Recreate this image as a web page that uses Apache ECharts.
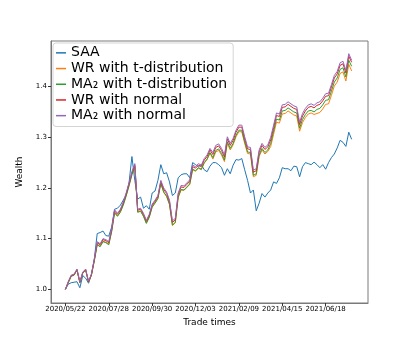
<!DOCTYPE html>
<html>
<head>
<meta charset="utf-8">
<script src="https://cdn.jsdelivr.net/npm/echarts@6/dist/echarts.min.js"></script>
<style>
  html, body { margin: 0; padding: 0; background: #fff; }
  #main { width: 409px; height: 341px; }
</style>
</head>
<body>
<div id="main"></div>
<script>
// sampled every 3 trading days, day 0 = 2020/05/22
var step = 3;
var tickDays = [0, 45, 90, 135, 180, 225, 270];
var tickLabels = ['2020/05/22', '2020/07/28', '2020/09/30', '2020/12/03', '2021/02/09', '2021/04/15', '2021/06/18'];
var yTicks = [1.0, 1.1, 1.2, 1.3, 1.4];

var names = ['SAA', 'WR with t-distribution', 'MA\u2082 with t-distribution', 'WR with normal', 'MA\u2082 with normal'];
var colors = ['#1f77b4', '#ff7f0e', '#2ca02c', '#d62728', '#9467bd'];

var saa = [1.000, 1.010, 1.013, 1.014, 1.015, 1.003, 1.027, 1.022, 1.012, 1.030,
  1.060, 1.110, 1.112, 1.115, 1.106, 1.105, 1.123, 1.158, 1.160, 1.166,
  1.176, 1.186, 1.210, 1.262, 1.215, 1.178, 1.182, 1.160, 1.165, 1.158,
  1.190, 1.194, 1.215, 1.246, 1.228, 1.230, 1.212, 1.185, 1.190, 1.220,
  1.226, 1.228, 1.228, 1.220, 1.250, 1.246, 1.242, 1.246, 1.236, 1.232,
  1.243, 1.250, 1.250, 1.246, 1.240, 1.225, 1.238, 1.228, 1.245, 1.256,
  1.255, 1.258, 1.236, 1.215, 1.190, 1.196, 1.155, 1.170, 1.189, 1.182,
  1.190, 1.196, 1.212, 1.209, 1.220, 1.240, 1.238, 1.238, 1.234, 1.243,
  1.242, 1.222, 1.242, 1.250, 1.248, 1.246, 1.251, 1.246, 1.240, 1.246,
  1.237, 1.250, 1.260, 1.267, 1.279, 1.294, 1.290, 1.282, 1.310, 1.296];

var wrT = [1.000, 1.013, 1.026, 1.028, 1.038, 1.013, 1.032, 1.038, 1.014, 1.028,
  1.057, 1.089, 1.085, 1.095, 1.093, 1.089, 1.115, 1.152, 1.145, 1.153,
  1.167, 1.185, 1.205, 1.227, 1.243, 1.153, 1.155, 1.145, 1.131, 1.143,
  1.163, 1.171, 1.180, 1.210, 1.191, 1.183, 1.167, 1.126, 1.131, 1.181,
  1.196, 1.195, 1.201, 1.207, 1.236, 1.233, 1.239, 1.236, 1.249, 1.256,
  1.269, 1.257, 1.271, 1.274, 1.265, 1.252, 1.288, 1.275, 1.285, 1.301,
  1.311, 1.311, 1.288, 1.268, 1.267, 1.222, 1.225, 1.262, 1.275, 1.267,
  1.272, 1.282, 1.306, 1.330, 1.328, 1.346, 1.347, 1.352, 1.348, 1.344,
  1.342, 1.312, 1.329, 1.339, 1.346, 1.348, 1.345, 1.347, 1.349, 1.356,
  1.365, 1.366, 1.383, 1.401, 1.409, 1.426, 1.429, 1.411, 1.444, 1.431];

var maT = [1.000, 1.013, 1.026, 1.028, 1.038, 1.013, 1.032, 1.038, 1.014, 1.028,
  1.056, 1.088, 1.084, 1.094, 1.092, 1.088, 1.114, 1.151, 1.144, 1.152,
  1.166, 1.184, 1.204, 1.226, 1.242, 1.152, 1.154, 1.144, 1.130, 1.142,
  1.162, 1.170, 1.179, 1.209, 1.192, 1.184, 1.168, 1.127, 1.132, 1.182,
  1.197, 1.196, 1.202, 1.208, 1.237, 1.234, 1.240, 1.237, 1.250, 1.257,
  1.270, 1.260, 1.274, 1.277, 1.268, 1.255, 1.291, 1.278, 1.288, 1.304,
  1.314, 1.314, 1.291, 1.271, 1.270, 1.225, 1.228, 1.265, 1.278, 1.270,
  1.275, 1.288, 1.312, 1.336, 1.334, 1.352, 1.353, 1.358, 1.354, 1.350,
  1.348, 1.318, 1.335, 1.345, 1.352, 1.353, 1.350, 1.355, 1.357, 1.364,
  1.373, 1.374, 1.391, 1.409, 1.417, 1.434, 1.437, 1.419, 1.452, 1.440];

var wrN = [1.000, 1.015, 1.027, 1.029, 1.039, 1.014, 1.033, 1.039, 1.015, 1.029,
  1.058, 1.092, 1.088, 1.098, 1.096, 1.092, 1.118, 1.155, 1.148, 1.156,
  1.170, 1.188, 1.208, 1.230, 1.246, 1.156, 1.158, 1.148, 1.134, 1.146,
  1.166, 1.174, 1.183, 1.213, 1.197, 1.189, 1.173, 1.132, 1.137, 1.187,
  1.202, 1.201, 1.207, 1.213, 1.242, 1.239, 1.245, 1.242, 1.255, 1.262,
  1.275, 1.266, 1.280, 1.283, 1.274, 1.261, 1.297, 1.284, 1.294, 1.310,
  1.320, 1.320, 1.297, 1.277, 1.276, 1.231, 1.234, 1.271, 1.284, 1.276,
  1.281, 1.295, 1.319, 1.343, 1.341, 1.359, 1.360, 1.365, 1.361, 1.357,
  1.355, 1.325, 1.342, 1.352, 1.359, 1.361, 1.358, 1.363, 1.365, 1.372,
  1.381, 1.382, 1.399, 1.417, 1.425, 1.442, 1.445, 1.427, 1.460, 1.448];

var maN = [1.000, 1.015, 1.028, 1.030, 1.040, 1.015, 1.034, 1.040, 1.016, 1.030,
  1.060, 1.094, 1.090, 1.100, 1.098, 1.094, 1.120, 1.157, 1.150, 1.158,
  1.172, 1.190, 1.210, 1.232, 1.248, 1.158, 1.160, 1.150, 1.136, 1.148,
  1.168, 1.176, 1.185, 1.215, 1.200, 1.192, 1.176, 1.135, 1.140, 1.190,
  1.205, 1.204, 1.210, 1.216, 1.245, 1.242, 1.248, 1.245, 1.258, 1.265,
  1.278, 1.270, 1.284, 1.287, 1.278, 1.265, 1.301, 1.288, 1.298, 1.314,
  1.324, 1.324, 1.301, 1.281, 1.280, 1.235, 1.238, 1.275, 1.288, 1.280,
  1.285, 1.300, 1.324, 1.348, 1.346, 1.364, 1.365, 1.370, 1.366, 1.362,
  1.360, 1.330, 1.347, 1.357, 1.364, 1.366, 1.363, 1.368, 1.370, 1.377,
  1.386, 1.387, 1.404, 1.422, 1.430, 1.447, 1.450, 1.432, 1.465, 1.452];

var values = [saa, wrT, maT, wrN, maN];
var font = 'DejaVu Sans';

function toPairs(arr) {
    return arr.map(function (v, i) { return [i * step, v]; });
}

var myChart = echarts.init(document.getElementById('main'));

myChart.setOption({
    animation: false,
    backgroundColor: '#fff',
    grid: {
        left: 51, top: 41, right: 41, bottom: 38,
        show: true,
        borderColor: '#7a7a7a',
        borderWidth: 1
    },
    legend: {
        orient: 'vertical',
        left: 53, top: 43,
        padding: [2, 6, 3, 3],
        itemGap: 0,
        itemWidth: 10,
        itemHeight: 1.5,
        icon: 'rect',
        backgroundColor: 'rgba(255,255,255,0.8)',
        borderColor: '#d4d4d4',
        borderWidth: 1,
        borderRadius: 3,
        textStyle: { fontFamily: font, fontSize: 14, color: '#000', lineHeight: 15.7 },
        data: names
    },
    xAxis: {
        type: 'value',
        min: -14.95,
        max: 313.95,
        name: 'Trade times',
        nameLocation: 'middle',
        nameGap: 10,
        nameTextStyle: { fontFamily: font, fontSize: 9, color: '#000' },
        axisLine: { show: true, onZero: false, lineStyle: { color: '#7a7a7a' } },
        splitLine: { show: false },
        axisTick: { show: true, length: 3, lineStyle: { color: '#333' }, customValues: tickDays },
        axisLabel: {
            fontFamily: font, fontSize: 7, color: '#000', margin: 3,
            customValues: tickDays,
            formatter: function (v) { return tickLabels[tickDays.indexOf(v)] || ''; }
        }
    },
    yAxis: {
        type: 'value',
        min: 0.973,
        max: 1.49,
        name: 'Wealth',
        nameLocation: 'middle',
        nameGap: 27,
        nameTextStyle: { fontFamily: font, fontSize: 9, color: '#000' },
        axisLine: { show: true, onZero: false, lineStyle: { color: '#7a7a7a' } },
        splitLine: { show: false },
        axisTick: { show: true, length: 3, lineStyle: { color: '#333' }, customValues: yTicks },
        axisLabel: {
            fontFamily: font, fontSize: 7, color: '#000', margin: 4,
            customValues: yTicks,
            formatter: function (v) { return v.toFixed(1); }
        }
    },
    series: names.map(function (n, k) {
        return {
            name: n,
            type: 'line',
            data: toPairs(values[k]),
            showSymbol: false,
            color: colors[k],
            lineStyle: { width: 1, color: colors[k] }
        };
    })
});
</script>
</body>
</html>
